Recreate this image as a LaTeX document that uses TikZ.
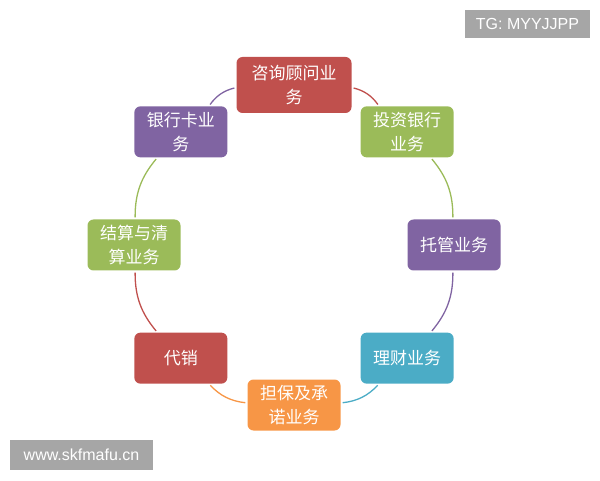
\documentclass[tikz,border=0pt]{standalone}
\usepackage{fontspec}
\setsansfont{Liberation Sans}
\newfontfamily\cjkfont{Noto Sans CJK SC}
\definecolor{ArtRed}{HTML}{C0504D}
\definecolor{ArtGreen}{HTML}{9BBB59}
\definecolor{ArtPurple}{HTML}{8064A2}
\definecolor{ArtBlue}{HTML}{4BACC6}
\definecolor{ArtOrange}{HTML}{F79646}
\definecolor{WmGray}{HTML}{A6A6A6}
\usetikzlibrary{calc}

\begin{document}
\begin{tikzpicture}[x=1pt, y=1pt,
      biz/.style={fill=#1, rounded corners=6pt, minimum width=93pt, minimum height=51pt,
         inner sep=2pt, align=center, text=white, font=\cjkfont\fontsize{17}{24}\selectfont},
      link/.style={draw=#1, line width=1.3pt, shorten >=2pt, shorten <=2pt},
      wmark/.style={fill=WmGray, text=white, inner sep=0pt, font=\sffamily\fontsize{16}{18}\selectfont}]
      \useasboundingbox (0,0) rectangle (600,480);
      % ring of services round the centre
      \coordinate (c) at (294,235);
      \node[biz=ArtRed, minimum width=115pt, minimum height=56pt] (consult) at ($(c)+(90:160)$) {咨询顾问业\\务};
      \node[biz=ArtGreen]  (invest)  at ($(c)+(45:160)$)  {投资银行\\业务};
      \node[biz=ArtPurple] (custody) at ($(c)+(0:160)$)   {托管业务};
      \node[biz=ArtBlue]   (wealth)  at ($(c)+(-45:160)$) {理财业务};
      \node[biz=ArtOrange] (guarant) at ($(c)+(-90:160)$) {担保及承\\诺业务};
      \node[biz=ArtRed]    (agency)  at ($(c)+(-135:160)$) {代销};
      \node[biz=ArtGreen]  (settle)  at ($(c)+(180:160)$) {结算与清\\算业务};
      \node[biz=ArtPurple] (card)    at ($(c)+(135:160)$) {银行卡业\\务};
      \draw[link=ArtRed]    (consult) to[bend left=20] (invest);
      \draw[link=ArtGreen]  (invest)  to[bend left=20] (custody);
      \draw[link=ArtPurple] (custody) to[bend left=20] (wealth);
      \draw[link=ArtBlue]   (wealth)  to[bend left=20] (guarant);
      \draw[link=ArtOrange] (guarant) to[bend left=20] (agency);
      \draw[link=ArtRed]    (agency)  to[bend left=20] (settle);
      \draw[link=ArtGreen]  (settle)  to[bend left=20] (card);
      \draw[link=ArtPurple] (card)    to[bend left=20] (consult);
      % watermarks
      \node[wmark, minimum width=125pt, minimum height=28pt] (tg) at (527.5,456) {TG: MYYJJPP};
      \node[wmark, minimum width=143pt, minimum height=30pt] (site) at (81.5,25) {www.skfmafu.cn};
   \end{tikzpicture}
\end{document}
